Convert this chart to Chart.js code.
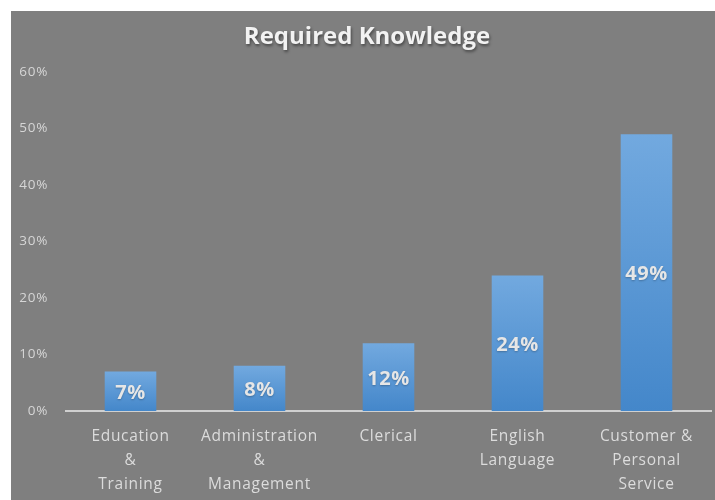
<!DOCTYPE html>
<html>
<head>
<meta charset="utf-8">
<script src="https://cdn.jsdelivr.net/npm/chart.js@4"></script>
<style>
  html, body { margin: 0; padding: 0; background: #ffffff; }
  #wrap { position: absolute; left: 11px; top: 11px; width: 704px; height: 489px; background: #7f7f7f; }
  canvas { display: block; }
</style>
</head>
<body>
<div id="wrap"><canvas id="c" width="704" height="489"></canvas></div>
<script>
const categories = [["Education", "&", "Training"], ["Administration", "&", "Management"], ["Clerical"], ["English", "Language"], ["Customer &", "Personal", "Service"]];
const values = [7, 8, 12, 24, 49];
const tickValues = [0, 10, 20, 30, 40, 50, 60];
const chartTitle = "Required Knowledge";

const spacing = {
  id: 'spacing',
  beforeInit(chart) { chart.ctx.letterSpacing = '0.7px'; },
  beforeLayout(chart) { chart.ctx.letterSpacing = '0.7px'; },
  beforeDraw(chart) { chart.ctx.letterSpacing = '0.7px'; }
};

const valueLabels = {
  id: 'valueLabels',
  afterDatasetsDraw(chart) {
    const ctx = chart.ctx;
    const meta = chart.getDatasetMeta(0);
    ctx.save();
    ctx.letterSpacing = '0.5px';
    ctx.font = 'bold 20px "Open Sans"';
    ctx.textAlign = 'center';
    ctx.textBaseline = 'middle';
    ctx.fillStyle = '#e6e6e6';
    ctx.shadowColor = 'rgba(0,0,0,0.25)';
    ctx.shadowBlur = 2;
    ctx.shadowOffsetY = 1;
    meta.data.forEach((bar, i) => {
      const y = (bar.y + bar.base) / 2;
      ctx.fillText(values[i] + '%', bar.x, y + 2);
    });
    ctx.restore();
  }
};

const titlePlugin = {
  id: 'titleText',
  afterDraw(chart) {
    const ctx = chart.ctx;
    ctx.save();
    ctx.letterSpacing = '0px';
    ctx.font = 'bold 24px "Open Sans"';
    ctx.textAlign = 'center';
    ctx.textBaseline = 'middle';
    ctx.fillStyle = '#f2f2f2';
    ctx.shadowColor = 'rgba(0,0,0,0.45)';
    ctx.shadowBlur = 3;
    ctx.shadowOffsetX = 1;
    ctx.shadowOffsetY = 2;
    ctx.fillText(chartTitle, 356, 26);
    ctx.restore();
  }
};

function barGradient(context) {
  const chart = context.chart;
  if (!chart.chartArea || context.type !== 'data') return '#5596d3';
  const ys = chart.scales.y;
  const v = context.raw;
  const top = ys.getPixelForValue(v);
  const bottom = ys.getPixelForValue(0);
  const g = chart.ctx.createLinearGradient(0, top, 0, bottom);
  g.addColorStop(0, '#72a9df');
  g.addColorStop(1, '#4487ca');
  return g;
}

new Chart(document.getElementById('c'), {
  type: 'bar',
  data: {
    labels: categories,
    datasets: [{
      data: values,
      backgroundColor: barGradient,
      borderWidth: 0,
      categoryPercentage: 1.0,
      barPercentage: 0.4
    }]
  },
  options: {
    responsive: false,
    animation: false,
    layout: { padding: { top: 61, right: 4, left: 0, bottom: 0 } },
    plugins: {
      legend: { display: false },
      title: { display: false },
      tooltip: { enabled: false }
    },
    scales: {
      x: {
        grid: { display: false, drawTicks: false },
        border: { display: true, color: '#d0d0d0', width: 2 },
        ticks: {
          color: '#dcdcdc',
          font: { family: '"Open Sans"', size: 15.5, lineHeight: 1.55 },
          padding: 14,
          maxRotation: 0,
          autoSkip: false
        },
        afterFit(scale) { scale.height = 89; }
      },
      y: {
        min: 0,
        max: 60,
        afterBuildTicks(scale) { scale.ticks = tickValues.map(v => ({ value: v })); },
        grid: { display: false, drawTicks: false },
        border: { display: false },
        ticks: {
          color: '#d6d6d6',
          font: { family: '"Open Sans"', size: 13.5 },
          padding: 18,
          callback: v => v + '%'
        },
        afterFit(scale) { scale.width = 55; }
      }
    }
  },
  plugins: [spacing, valueLabels, titlePlugin]
});
</script>
</body>
</html>
